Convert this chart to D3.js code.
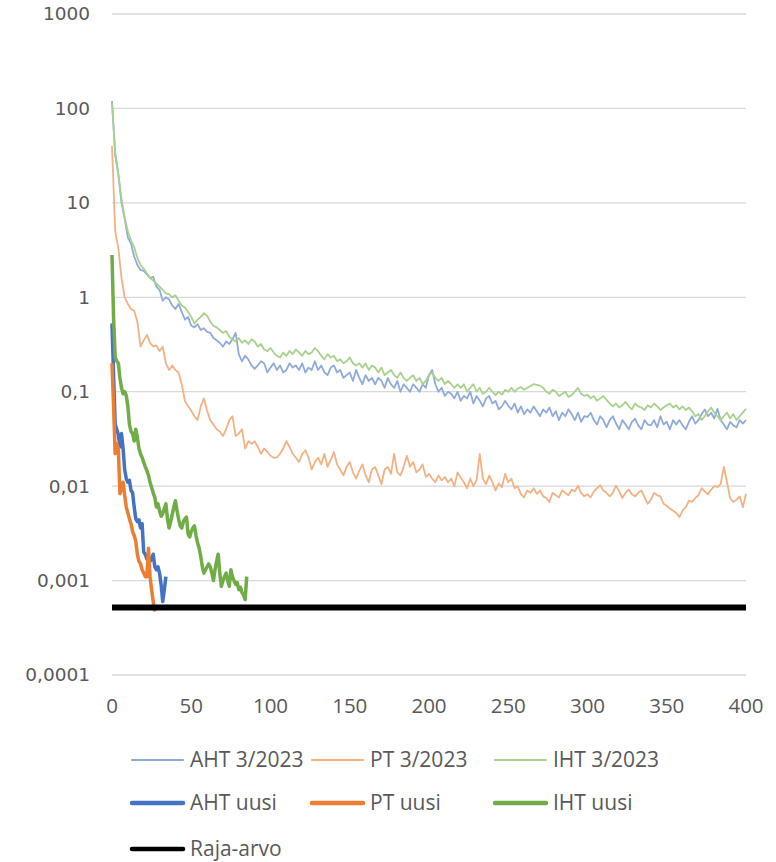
<!DOCTYPE html>
<html>
<head>
<meta charset="utf-8">
<script src="https://cdn.jsdelivr.net/npm/d3@7"></script>
<style>
  body { margin: 0; background: #fff; }
  text { fill: #595959; }
</style>
</head>
<body>
<div id="chart"></div>
<script>
// old runs (3/2023), one value every 2 days from day 0 to 400
const ahtOld = [120, 32, 20, 10, 6.8, 4.3, 3.7, 2.7, 2.2, 1.95, 1.9, 1.75, 1.6, 1.65, 1.3, 1.2, 0.92, 1.0, 0.95, 0.82,
  0.75, 0.85, 0.7, 0.58, 0.62, 0.5, 0.48, 0.52, 0.45, 0.47, 0.43, 0.42, 0.37, 0.35, 0.33, 0.3, 0.34, 0.32, 0.36, 0.42,
  0.25, 0.21, 0.24, 0.22, 0.19, 0.175, 0.19, 0.21, 0.2, 0.16, 0.18, 0.2, 0.17, 0.19, 0.16, 0.17, 0.2, 0.18, 0.19, 0.17,
  0.2, 0.16, 0.18, 0.17, 0.21, 0.17, 0.19, 0.16, 0.15, 0.18, 0.19, 0.16, 0.17, 0.14, 0.15, 0.16, 0.13, 0.17, 0.14, 0.12,
  0.15, 0.13, 0.14, 0.12, 0.14, 0.13, 0.11, 0.14, 0.12, 0.11, 0.13, 0.1, 0.12, 0.11, 0.1, 0.12, 0.11, 0.1, 0.12, 0.11,
  0.15, 0.17, 0.12, 0.1, 0.11, 0.09, 0.1, 0.095, 0.085, 0.1, 0.08, 0.09, 0.085, 0.1, 0.075, 0.09, 0.08, 0.07, 0.085, 0.09,
  0.075, 0.08, 0.065, 0.07, 0.08, 0.071, 0.065, 0.075, 0.06, 0.07, 0.058, 0.065, 0.06, 0.07, 0.062, 0.055, 0.065, 0.06, 0.068, 0.055,
  0.062, 0.05, 0.06, 0.055, 0.065, 0.058, 0.05, 0.06, 0.048, 0.055, 0.054, 0.06, 0.05, 0.045, 0.055, 0.05, 0.042, 0.05, 0.055, 0.046,
  0.04, 0.05, 0.045, 0.04, 0.048, 0.052, 0.044, 0.04, 0.05, 0.045, 0.044, 0.05, 0.042, 0.055, 0.045, 0.048, 0.04, 0.05, 0.045, 0.05,
  0.044, 0.04, 0.048, 0.055, 0.046, 0.05, 0.058, 0.065, 0.055, 0.06, 0.052, 0.066, 0.05, 0.045, 0.04, 0.048, 0.044, 0.042, 0.05, 0.046,
  0.05];

const ptOld = [40, 5, 3.3, 1.6, 1.0, 0.85, 0.75, 0.72, 0.55, 0.3, 0.35, 0.4, 0.33, 0.3, 0.31, 0.27, 0.3, 0.2, 0.17, 0.19,
  0.17, 0.16, 0.12, 0.08, 0.07, 0.063, 0.055, 0.05, 0.07, 0.085, 0.063, 0.05, 0.045, 0.04, 0.038, 0.034, 0.04, 0.05, 0.055, 0.034,
  0.036, 0.04, 0.025, 0.03, 0.028, 0.03, 0.026, 0.022, 0.025, 0.023, 0.021, 0.02, 0.02, 0.022, 0.025, 0.03, 0.026, 0.022, 0.02, 0.018,
  0.022, 0.024, 0.02, 0.015, 0.018, 0.02, 0.017, 0.022, 0.016, 0.019, 0.023, 0.017, 0.015, 0.013, 0.016, 0.018, 0.014, 0.012, 0.0145, 0.017,
  0.013, 0.011, 0.015, 0.016, 0.013, 0.0105, 0.015, 0.016, 0.0135, 0.022, 0.014, 0.013, 0.016, 0.021, 0.016, 0.018, 0.014, 0.015, 0.017, 0.0125,
  0.0135, 0.012, 0.011, 0.013, 0.0115, 0.0125, 0.011, 0.012, 0.01, 0.014, 0.0123, 0.011, 0.0095, 0.012, 0.01, 0.0115, 0.022, 0.012, 0.0105, 0.013,
  0.011, 0.009, 0.0107, 0.0097, 0.0135, 0.011, 0.012, 0.0095, 0.01, 0.0082, 0.0076, 0.009, 0.0085, 0.0095, 0.0083, 0.009, 0.0078, 0.0075, 0.0068, 0.0085,
  0.008, 0.0076, 0.009, 0.0085, 0.008, 0.0092, 0.0088, 0.0101, 0.0085, 0.0078, 0.0082, 0.0076, 0.0088, 0.0095, 0.0102, 0.009, 0.0085, 0.0078, 0.0085, 0.0101,
  0.0088, 0.0075, 0.0085, 0.0092, 0.0082, 0.0078, 0.0085, 0.009, 0.0076, 0.0065, 0.0072, 0.0085, 0.008, 0.0078, 0.0065, 0.0062, 0.0058, 0.0055, 0.0052, 0.0047,
  0.0055, 0.006, 0.007, 0.0068, 0.0075, 0.008, 0.0095, 0.0088, 0.0082, 0.0092, 0.01, 0.0098, 0.0105, 0.016, 0.011, 0.0075, 0.0068, 0.0072, 0.0078, 0.006,
  0.0083];

const ihtOld = [115, 35, 20, 11, 7, 5, 4, 3.4, 2.6, 2.2, 2.0, 1.8, 1.6, 1.5, 1.4, 1.3, 1.2, 1.1, 1.08, 1.0,
  1.05, 0.92, 0.82, 0.78, 0.7, 0.62, 0.53, 0.58, 0.62, 0.68, 0.64, 0.55, 0.5, 0.48, 0.45, 0.42, 0.44, 0.38, 0.36, 0.34,
  0.37, 0.33, 0.35, 0.32, 0.36, 0.34, 0.3, 0.32, 0.28, 0.27, 0.29, 0.26, 0.24, 0.23, 0.26, 0.24, 0.27, 0.25, 0.28, 0.26,
  0.24, 0.27, 0.25, 0.26, 0.29, 0.27, 0.24, 0.22, 0.25, 0.23, 0.24, 0.21, 0.22, 0.2, 0.21, 0.23, 0.2, 0.19, 0.2, 0.18,
  0.2, 0.17, 0.19, 0.18, 0.16, 0.18, 0.15, 0.16, 0.17, 0.15, 0.14, 0.16, 0.14, 0.13, 0.14, 0.15, 0.13, 0.14, 0.12, 0.13,
  0.15, 0.16, 0.14, 0.13, 0.14, 0.12, 0.13, 0.12, 0.11, 0.12, 0.11, 0.12, 0.1, 0.11, 0.12, 0.1, 0.11, 0.095, 0.1, 0.11,
  0.1, 0.092, 0.1, 0.093, 0.105, 0.1, 0.11, 0.1, 0.108, 0.112, 0.105, 0.11, 0.115, 0.12, 0.118, 0.116, 0.11, 0.1, 0.095, 0.105,
  0.1, 0.09, 0.095, 0.1, 0.088, 0.092, 0.1, 0.11, 0.095, 0.09, 0.093, 0.085, 0.09, 0.08, 0.085, 0.09, 0.082, 0.075, 0.07, 0.075,
  0.068, 0.072, 0.078, 0.07, 0.065, 0.075, 0.07, 0.068, 0.064, 0.072, 0.068, 0.075, 0.07, 0.064, 0.068, 0.072, 0.075, 0.068, 0.072, 0.065,
  0.07, 0.064, 0.068, 0.062, 0.055, 0.058, 0.05, 0.055, 0.062, 0.068, 0.06, 0.055, 0.05, 0.055, 0.06, 0.052, 0.058, 0.05, 0.055, 0.06,
  0.066];

// new runs, one value per day
const ahtNew = [0.53, 0.15, 0.045, 0.04, 0.035, 0.026, 0.036, 0.025, 0.015, 0.012, 0.011, 0.0115, 0.009, 0.0085, 0.006,
  0.0045, 0.0042, 0.0044, 0.0036, 0.004, 0.002, 0.0019, 0.0017, 0.0018, 0.0016, 0.0017, 0.0019, 0.0014, 0.0013, 0.0014,
  0.0012, 0.0009, 0.0006, 0.0008, 0.0011];

const ptNew = [0.2, 0.07, 0.022, 0.028, 0.025, 0.0083, 0.0095, 0.011, 0.008, 0.006, 0.0052, 0.0045, 0.004, 0.0033,
  0.003, 0.0026, 0.0019, 0.0016, 0.0015, 0.0013, 0.0012, 0.0011, 0.0011, 0.0022, 0.0011, 0.0008, 0.0006, 0.00047];

const ihtNew = [2.8, 0.6, 0.23, 0.21, 0.2, 0.14, 0.11, 0.095, 0.1, 0.091, 0.07, 0.045, 0.038, 0.036, 0.03, 0.04, 0.033,
  0.025, 0.022, 0.02, 0.018, 0.016, 0.0146, 0.013, 0.011, 0.0097, 0.0085, 0.0076, 0.006, 0.0065, 0.0055, 0.0048, 0.0051,
  0.0058, 0.0065, 0.0045, 0.0036, 0.0042, 0.005, 0.006, 0.007, 0.0055, 0.0045, 0.0038, 0.0036, 0.0042, 0.0045, 0.0047,
  0.0031, 0.0029, 0.0033, 0.0036, 0.0038, 0.003, 0.0025, 0.0022, 0.0018, 0.0014, 0.0012, 0.0013, 0.0014, 0.0015, 0.0014,
  0.0012, 0.001, 0.0013, 0.0016, 0.0019, 0.0012, 0.00087, 0.001, 0.0011, 0.0012, 0.001, 0.00087, 0.0013, 0.0011, 0.001,
  0.00091, 0.00095, 0.0008, 0.00085, 0.00075, 0.0007, 0.00063, 0.0011];

const rajaDays = [0, 400];
const rajaArvo = 0.00052;

const yTicks = [0.0001, 0.001, 0.01, 0.1, 1, 10, 100, 1000];
const yTickLabels = ["0,0001", "0,001", "0,01", "0,1", "1", "10", "100", "1000"];
const xTicks = [0, 50, 100, 150, 200, 250, 300, 350, 400];

const series = [
  { name: "AHT 3/2023", values: ahtOld, step: 2, color: "#8faadc", width: 1.8 },
  { name: "PT 3/2023", values: ptOld, step: 2, color: "#f4b183", width: 1.8 },
  { name: "IHT 3/2023", values: ihtOld, step: 2, color: "#a9d18e", width: 1.8 },
  { name: "AHT uusi", values: ahtNew, step: 1, color: "#4472c4", width: 3.5 },
  { name: "PT uusi", values: ptNew, step: 1, color: "#ed7d31", width: 3.5 },
  { name: "IHT uusi", values: ihtNew, step: 1, color: "#70ad47", width: 3.5 },
  { name: "Raja-arvo", values: rajaDays.map(() => rajaArvo), days: rajaDays, color: "#000000", width: 6 }
];

const W = 776, H = 862;
const svg = d3.select("#chart").append("svg")
  .attr("width", W)
  .attr("height", H);

const x = d3.scaleLinear().domain([0, 400]).range([112, 746]);
const y = d3.scaleLog().domain([0.0001, 1000]).range([675, 14]);

// gridlines
svg.append("g")
  .selectAll("line")
  .data(yTicks)
  .enter().append("line")
  .attr("x1", x(0)).attr("x2", x(400))
  .attr("y1", d => y(d)).attr("y2", d => y(d))
  .attr("stroke", "#d9d9d9")
  .attr("stroke-width", 1.3);

// y labels
svg.append("g")
  .selectAll("text")
  .data(yTicks)
  .enter().append("text")
  .attr("x", 90)
  .attr("y", d => y(d))
  .attr("dy", "0.35em")
  .attr("text-anchor", "end")
  .style("font-family", "'DejaVu Sans', sans-serif")
  .style("font-size", "18.5px")
  .text((d, i) => yTickLabels[i]);

// x labels
svg.append("g")
  .selectAll("text")
  .data(xTicks)
  .enter().append("text")
  .attr("x", d => x(d))
  .attr("y", 713)
  .attr("text-anchor", "middle")
  .style("font-family", "'Open Sans', sans-serif")
  .style("font-size", "20.5px")
  .text(d => d);

const line = d3.line()
  .x(d => x(d[0]))
  .y(d => y(d[1]));

svg.append("g")
  .selectAll("path")
  .data(series)
  .enter().append("path")
  .attr("fill", "none")
  .attr("stroke", d => d.color)
  .attr("stroke-width", d => d.width)
  .attr("stroke-linejoin", "round")
  .attr("d", d => line(d.values.map((v, i) => [d.days ? d.days[i] : i * d.step, v])));

// legend
const legendPos = [
  [132, 760], [312, 760], [495, 760],
  [132, 803], [312, 803], [495, 803],
  [132, 849]
];
const legend = svg.append("g")
  .selectAll("g")
  .data(series)
  .enter().append("g")
  .attr("transform", (d, i) => "translate(" + legendPos[i][0] + "," + legendPos[i][1] + ")");

legend.append("line")
  .attr("x1", 0).attr("x2", 51)
  .attr("stroke", d => d.color)
  .attr("stroke-width", (d, i) => i < 3 ? 2.2 : 4.5)
  .attr("stroke-linecap", "round");

legend.append("text")
  .attr("x", 58)
  .attr("dy", "0.35em")
  .style("font-family", "'Open Sans', sans-serif")
  .style("font-size", "21px")
  .text(d => d.name);
</script>
</body>
</html>
